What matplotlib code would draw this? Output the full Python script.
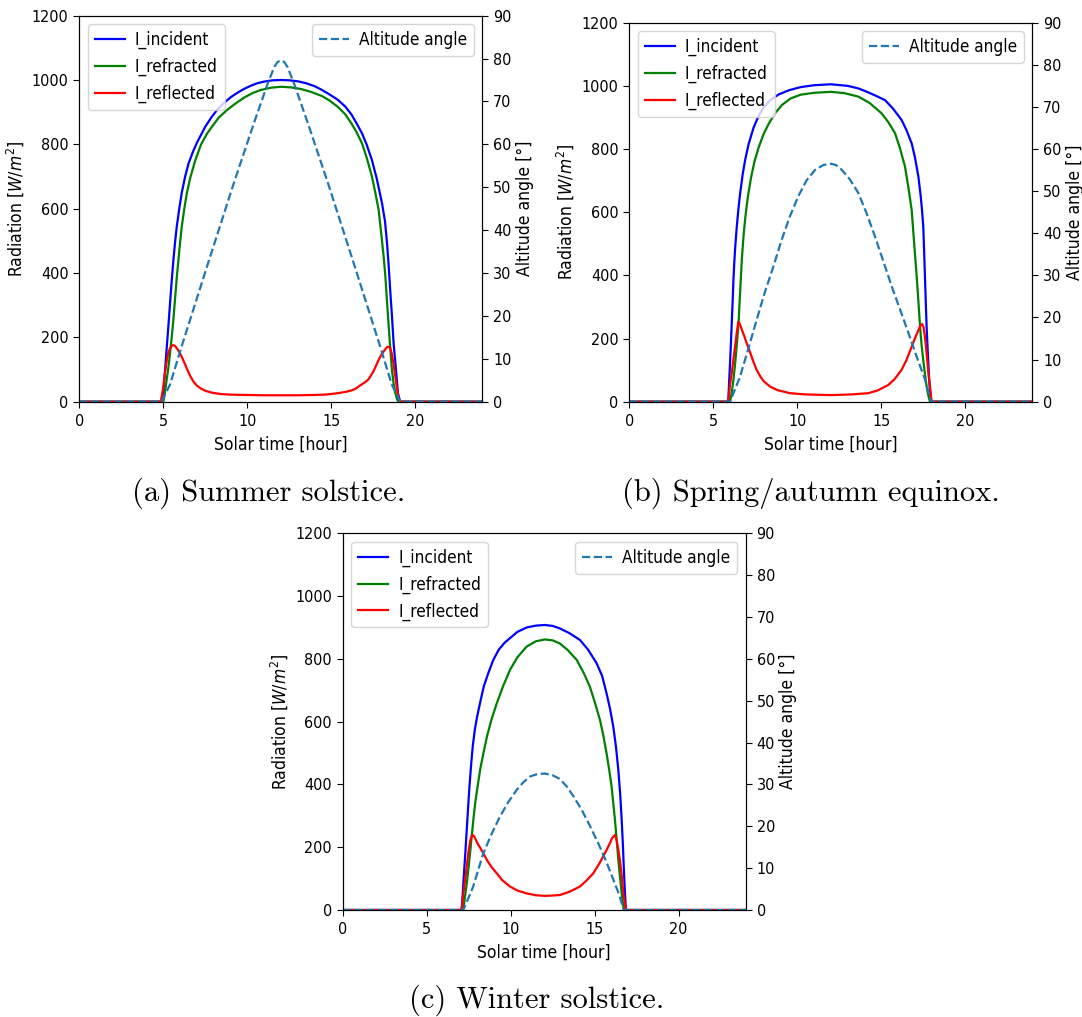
import matplotlib.pyplot as plt

plt.rcParams['font.family'] = 'DejaVu Sans'
plt.rcParams['font.stretch'] = 'condensed'
plt.rcParams['font.size'] = 12
plt.rcParams['xtick.labelsize'] = 11.5
plt.rcParams['ytick.labelsize'] = 11.5
plt.rcParams['axes.labelsize'] = 12.5
plt.rcParams['legend.fontsize'] = 12.3
plt.rcParams['xtick.major.size'] = 4.2
plt.rcParams['ytick.major.size'] = 4.2
plt.rcParams['xtick.major.pad'] = 4.5
plt.rcParams['ytick.major.pad'] = 3.5

# ---- (a) summer solstice ----
t_inc_a = [0, 4.85, 4.95, 5.0, 5.1, 5.2, 5.3, 5.4, 5.5, 5.6, 5.7, 5.8, 5.95, 6.1, 6.3, 6.5, 6.75, 7.0,
           7.25, 7.5, 7.85, 8.2, 8.6, 9.0, 9.4, 9.8, 10.2, 10.6, 11.0, 11.5, 12.0,
           12.5, 13.0, 13.5, 14.0, 14.45, 14.9, 15.4, 15.84, 16.2, 16.5, 16.83, 17.1, 17.42, 17.7,
           18.02, 18.2, 18.32, 18.42, 18.52, 18.62, 18.71, 18.85, 18.97, 19.1, 24]
inc_a = [0, 0, 10, 26, 95, 165, 233, 305, 375, 440, 495, 544, 600, 650, 700, 740, 775, 805,
         830, 855, 883, 907, 928, 946, 960, 972, 982, 990, 995, 999, 1000,
         999, 996, 990, 981, 969, 955, 938, 917, 893, 866, 834, 800, 751, 695,
         617, 560, 492, 420, 337, 260, 182, 100, 26, 0, 0]
t_ref_a = [0, 5.0, 5.1, 5.2, 5.3, 5.4, 5.5, 5.6, 5.7, 5.8, 5.9, 6.0, 6.1, 6.25, 6.4, 6.6, 6.9, 7.25,
           7.6, 7.9, 8.3, 8.8, 9.3, 9.8, 10.3, 10.8, 11.4, 12.0,
           12.6, 13.2, 13.8, 14.45, 14.9, 15.4, 15.84, 16.2, 16.5, 16.83, 17.1, 17.42, 17.62, 17.82,
           18.0, 18.12, 18.22, 18.32, 18.42, 18.52, 18.61, 18.7, 18.8, 18.91, 19.0, 24]
ref_a = [0, 0, 30, 68, 105, 150, 200, 255, 320, 385, 440, 495, 545, 600, 648, 695, 750, 800,
         833, 855, 883, 907, 927, 945, 959, 969, 976, 979,
         977, 972, 963, 950, 936, 916, 893, 865, 838, 803, 760, 700, 650, 596,
         510, 450, 389, 310, 233, 160, 99, 60, 30, 8, 0, 0]
t_rfl_a = [0, 4.85, 5.0, 5.1, 5.2, 5.3, 5.4, 5.5, 5.6, 5.7, 5.85, 6.0, 6.2, 6.4, 6.6, 6.8, 7.0, 7.2,
           7.5, 7.9, 8.4, 9.0, 10.0, 11.0, 12.0, 13.0, 14.0, 14.6, 15.0, 15.44, 15.9, 16.2, 16.43,
           16.7, 17.0, 17.22, 17.5, 17.82, 18.0, 18.2, 18.3, 18.42, 18.5, 18.6, 18.7, 18.81, 18.9,
           19.0, 19.1, 24]
rfl_a = [0, 0, 45, 90, 125, 152, 166, 174, 176, 173, 163, 150, 128, 103, 80, 62, 50, 42,
         34, 28, 24, 22, 21, 20, 20, 20, 21, 22, 24, 27, 31, 35, 40,
         50, 60, 70, 93, 130, 148, 162, 169, 171, 168, 150, 120, 78, 45,
         12, 0, 0]
t_alt_a = [0, 4.9, 5.4, 6.1, 7.6, 9.2, 10.4, 11.2, 11.6, 11.8, 12.0, 12.2, 12.4, 12.8, 13.6, 14.8,
           16.4, 17.9, 18.6, 19.1, 24]
alt_a = [0, 0, 4, 13, 31.5, 51, 65, 74, 78, 79.2, 79.6, 79.2, 78, 74, 65, 51,
         31.5, 13, 4, 0, 0]

# ---- (b) spring/autumn equinox ----
t_inc_b = [0, 5.89, 5.95, 6.0, 6.05, 6.1, 6.15, 6.2, 6.25, 6.3, 6.4, 6.5, 6.6, 6.75, 6.9, 7.1, 7.4,
           7.7, 8.0, 8.4, 8.9, 9.5, 10.2, 11.0, 12.0,
           13.0, 13.63, 14.2, 14.7, 15.22, 15.7, 16.21, 16.5, 16.81, 17.0, 17.21, 17.35, 17.42,
           17.5, 17.55, 17.6, 17.65, 17.7, 17.77, 17.84, 17.9, 17.96, 24]
inc_b = [0, 0, 70, 125, 185, 250, 315, 385, 440, 485, 555, 612, 660, 720, 766, 815, 868,
         905, 932, 955, 973, 986, 996, 1002, 1005,
         1000, 992, 980, 968, 955, 928, 892, 860, 818, 775, 713, 650, 610,
         555, 480, 396, 315, 237, 155, 79, 35, 0, 0]
t_ref_b = [0, 6.0, 6.1, 6.2, 6.3, 6.4, 6.5, 6.6, 6.7, 6.8, 6.9, 7.0, 7.1, 7.25, 7.45, 7.7, 8.0,
           8.3, 8.7, 9.1, 9.6, 10.2, 11.0, 12.0,
           12.8, 13.63, 14.3, 15.02, 15.42, 15.82, 16.1, 16.41, 16.61, 16.81, 16.96, 17.11, 17.21,
           17.31, 17.4, 17.5, 17.6, 17.7, 17.8, 17.9, 24]
ref_b = [0, 0, 30, 70, 120, 180, 245, 350, 450, 525, 580, 625, 663, 710, 760, 805, 848,
         880, 915, 940, 960, 972, 978, 981,
         977, 966, 946, 913, 885, 850, 805, 745, 680, 607, 500, 396, 318,
         237, 180, 132, 88, 48, 20, 0, 0]
t_rfl_b = [0, 5.89, 5.95, 6.0, 6.1, 6.2, 6.3, 6.4, 6.49, 6.55, 6.62, 6.7, 6.85, 6.99, 7.2, 7.4,
           7.58, 7.8, 8.0, 8.38, 8.8, 9.56, 10.5, 12.0, 13.2, 14.23, 14.8, 15.42, 15.8, 16.21,
           16.5, 16.81, 17.0, 17.2, 17.32, 17.44, 17.52, 17.6, 17.7, 17.8, 17.9, 18.0, 24]
rfl_b = [0, 0, 30, 55, 90, 135, 175, 220, 253, 250, 240, 228, 207, 185, 155, 125,
         101, 80, 65, 48, 37, 27, 23, 21, 23, 27, 36, 53, 72, 101,
         132, 174, 200, 225, 240, 246, 235, 205, 153, 95, 48, 0, 0]
t_alt_b = [0, 6.0, 6.3, 6.59, 7.1, 7.58, 8.07, 8.57, 9.06, 9.56, 10.06, 10.56, 11.05, 11.55, 12.0,
           12.3, 12.64, 13.13, 13.63, 14.12, 14.62, 15.12, 15.62, 16.11, 16.61, 17.1, 17.6, 17.96, 24]
alt_b = [0, 0, 3, 5.9, 12.8, 19.4, 26, 32, 38.3, 44, 48.8, 52.6, 55, 56.2, 56.5,
         56.2, 55.1, 52.8, 49.6, 44.8, 39.3, 33.4, 27.4, 22, 16.4, 10.8, 5.3, 0, 0]

# ---- (c) winter solstice ----
t_inc_c = [0, 7.08, 7.15, 7.22, 7.3, 7.38, 7.46, 7.55, 7.65, 7.75, 7.87, 8.0, 8.2, 8.4, 8.65, 8.97,
           9.3, 9.65, 9.96, 10.4, 10.95, 11.5, 12.04,
           12.5, 12.93, 13.5, 14.13, 14.6, 15.12, 15.45, 15.71, 15.92, 16.11, 16.27, 16.41, 16.52,
           16.61, 16.68, 16.74, 16.8, 16.86, 24]
inc_c = [0, 0, 55, 115, 180, 250, 320, 395, 465, 525, 575, 615, 665, 712, 752, 797,
         830, 852, 866, 886, 900, 906, 908,
         905, 897, 882, 860, 830, 786, 745, 690, 640, 584, 520, 446, 370,
         287, 210, 128, 60, 0, 0]
t_ref_c = [0, 7.18, 7.3, 7.4, 7.5, 7.6, 7.7, 7.8, 7.9, 8.05, 8.2, 8.4, 8.6, 8.85, 9.17, 9.55, 9.96,
           10.4, 10.95, 11.5, 12.04,
           12.5, 12.93, 13.4, 13.93, 14.35, 14.72, 15.02, 15.32, 15.52, 15.71, 15.87, 16.01, 16.11,
           16.21, 16.31, 16.41, 16.51, 16.61, 16.68, 16.74, 24]
ref_c = [0, 0, 50, 90, 138, 190, 245, 298, 345, 400, 452, 505, 555, 605, 658, 713, 765,
         805, 839, 856, 862,
         859, 849, 828, 797, 755, 711, 660, 605, 555, 499, 445, 393, 340,
         287, 225, 160, 105, 53, 22, 0, 0]
t_rfl_c = [0, 7.08, 7.2, 7.3, 7.4, 7.5, 7.6, 7.68, 7.74, 7.82, 7.92, 8.05, 8.2, 8.37, 8.6, 8.85,
           9.17, 9.5, 9.96, 10.4, 10.95, 11.5, 12.04, 12.5, 12.93, 13.5, 14.13, 14.5, 14.92, 15.3,
           15.71, 15.9, 16.05, 16.21, 16.3, 16.4, 16.5, 16.6, 16.7, 16.78, 16.86, 24]
rfl_c = [0, 0, 60, 100, 145, 190, 222, 235, 239, 235, 224, 210, 197, 181, 158, 138,
         117, 95, 75, 62, 53, 47, 45, 46, 48, 58, 75, 93, 117, 150,
         191, 212, 230, 239, 225, 195, 160, 115, 60, 28, 0, 0]
t_alt_c = [0, 7.18, 7.5, 7.77, 8.07, 8.37, 8.87, 9.36, 9.86, 10.36, 10.75, 11.15, 11.6, 12.04,
           12.5, 12.93, 13.32, 13.72, 14.22, 14.72, 15.22, 15.71, 16.06, 16.41, 16.74, 24]
alt_c = [0, 0, 3, 5.6, 9.6, 13.5, 18.2, 22.3, 25.8, 28.7, 30.5, 31.9, 32.5, 32.6,
         32.2, 31.3, 29.6, 27.3, 24, 20.1, 15.9, 11.4, 7.8, 4.2, 0, 0]

captions = ['(a) Summer solstice.', '(b) Spring/autumn equinox.', '(c) Winter solstice.']

fig = plt.figure(figsize=(10.82, 10.17), dpi=100)


def draw_panel(rect, inc, refr, refl, alt, caption, cx, cy):
    ax = fig.add_axes(rect)
    ax.plot(inc[0], inc[1], color='b', lw=1.6, label='I_incident')
    ax.plot(refr[0], refr[1], color='g', lw=1.6, label='I_refracted')
    ax.plot(refl[0], refl[1], color='r', lw=1.6, label='I_reflected')
    ax.set_xlim(0, 24)
    ax.set_ylim(0, 1200)
    ax.set_xticks([0, 5, 10, 15, 20])
    ax.set_yticks(range(0, 1201, 200))
    ax.set_xlabel('Solar time [hour]', labelpad=5)
    ax.set_ylabel(r'Radiation [$W/m^2$]')
    ax.legend(loc='upper left', handlelength=1.75, handletextpad=0.6)

    ax2 = ax.twinx()
    ax2.plot(alt[0], alt[1], '--', color='#1f77b4', lw=1.6, label='Altitude angle')
    ax2.set_ylim(0, 90)
    ax2.set_yticks(range(0, 91, 10))
    ax2.set_ylabel('Altitude angle [°]', labelpad=3)
    ax2.legend(loc='upper right', handlelength=1.75, handletextpad=0.6)

    fig.text(cx, cy, caption, ha='center', va='center', fontfamily='cmr10', fontsize=22)


draw_panel([0.0733, 0.605, 0.3726, 0.3796], (t_inc_a, inc_a), (t_ref_a, ref_a), (t_rfl_a, rfl_a),
           (t_alt_a, alt_a), captions[0], 269 / 1082, 1 - 493 / 1017)
draw_panel([0.5816, 0.605, 0.3726, 0.3727], (t_inc_b, inc_b), (t_ref_b, ref_b), (t_rfl_b, rfl_b),
           (t_alt_b, alt_b), captions[1], 811 / 1082, 1 - 493 / 1017)
draw_panel([0.3167, 0.1052, 0.3726, 0.3704], (t_inc_c, inc_c), (t_ref_c, ref_c), (t_rfl_c, rfl_c),
           (t_alt_c, alt_c), captions[2], 537 / 1082, 1 - 1000 / 1017)

fig.savefig('out.png', dpi=100)
